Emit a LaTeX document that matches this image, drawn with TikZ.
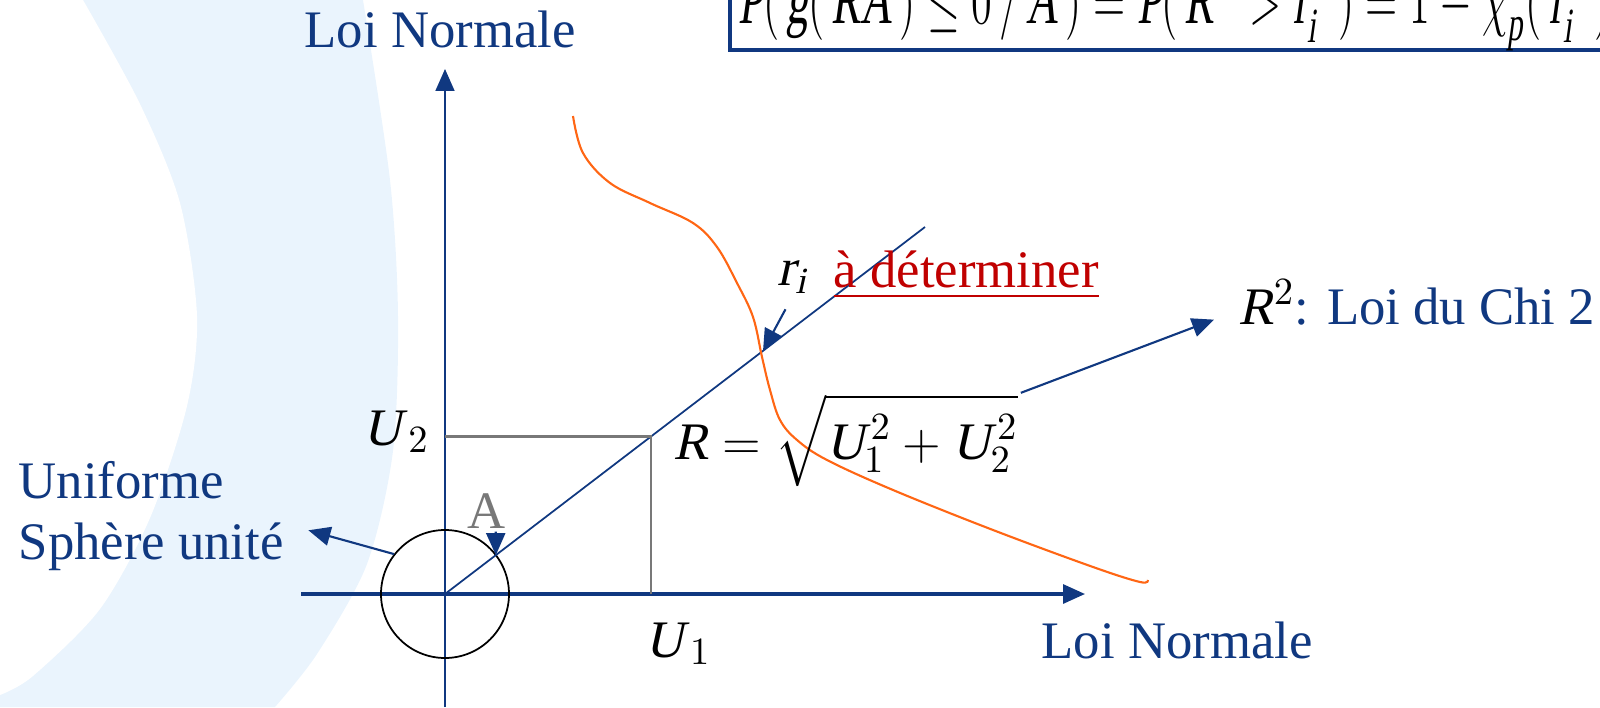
\documentclass[tikz,border=0pt]{standalone}
\usepackage{amsmath}
\usepackage{fontspec}
\setmainfont{Liberation Serif}[ItalicFont={Liberation Serif}, ItalicFeatures={FakeSlant=0.22}]
\usetikzlibrary{arrows.meta}

\definecolor{bleu}{RGB}{16,56,128}
\definecolor{orangec}{RGB}{255,102,20}
\definecolor{rouge}{RGB}{192,0,0}
\definecolor{fond}{RGB}{234,244,253}
\definecolor{gris}{RGB}{120,120,120}

\begin{document}
\begin{tikzpicture}[
    fleche/.style={-{Triangle[length=0.22cm,width=0.19cm]}, draw=bleu, line width=0.6pt},
    etiq/.style={anchor=base west, inner sep=0pt, font=\fontsize{15}{17.6}\selectfont}
  ]
  \useasboundingbox (-4.45,-1.13) rectangle (11.55,5.94);
  \clip (-4.45,-1.13) rectangle (11.55,5.94);

  % 背景：浅蓝色月牙
  \fill[fond] (-4.45,5.94) -- plot[smooth] coordinates {(-0.82,5.94) (-0.55,4.14) (-0.47,2.78)
       (-0.52,1.43) (-0.78,0.30) (-1.28,-0.60) (-1.70,-1.13)} -- (-4.45,-1.13) -- cycle;
  \fill[white] (-4.45,5.94) -- plot[smooth] coordinates {(-3.62,5.94) (-3.05,4.90) (-2.65,3.91)
       (-2.48,2.78) (-2.58,1.88) (-2.95,0.76) (-3.45,-0.15) (-4.12,-0.82) (-4.45,-1.01)} -- cycle;

  % 坐标轴
  \coordinate (O) at (0,0);
  \draw[fleche, line width=0.9pt] (-1.44,0) -- (6.40,0);
  \draw[fleche, line width=0.5pt] (0,-1.13) -- (0,5.25);
  \node[etiq, text=bleu] (axeY) at (-1.41,5.46) {Loi Normale};
  \node[etiq, text=bleu] (axeX) at (5.96,-0.64) {Loi Normale};

  % 单位球
  \node[circle, draw, line width=0.5pt, minimum size=1.28cm, inner sep=0pt] (sphere) at (O) {};

  % 射线与投影
  \coordinate (P) at (2.06,1.575);
  \coordinate (D) at (4.80,3.67);
  \coordinate (pA) at (37.4:0.64);
  \coordinate (Ri) at (3.18,2.43);
  \draw[bleu, line width=0.5pt] (O) -- (D);
  \draw[gris, line width=0.6pt] (O |- P) -- (P) -- (P |- O);

  % 极限状态曲线
  \draw[orangec, line width=0.6pt] plot[smooth, tension=0.6] coordinates {(1.28,4.78) (1.38,4.41)
       (1.65,4.11) (2.05,3.91) (2.48,3.71) (2.72,3.47) (2.92,3.11) (3.08,2.77) (3.17,2.37)
       (3.25,2.04) (3.35,1.74) (3.52,1.54) (3.82,1.34) (4.48,1.04) (5.48,0.64) (6.48,0.27)
       (6.95,0.12) (7.03,0.14)};

  % 标注
  \node[etiq] (u1) at (2.00,-0.63) {$\textit{U}_{\,1}$};
  \node[etiq, anchor=base east] (u2) at (-0.15,1.49) {$\textit{U}_{\,2}$};
  \node[etiq] (formR) at (2.28,1.35) {$\textit{R}=\sqrt{\textit{U}_{1}^{\,2}+\textit{U}_{2}^{\,2}}$};
  \node[etiq] (ri) at (3.32,3.08) {$\textit{r}_{\textit{i}}$};
  \node[etiq, text=rouge] (adet) at (3.88,3.06) {\underline{à déterminer}};
  \node[etiq, text=bleu] (chi) at (7.93,2.695) {{\color{black}$\textit{R}^{2}$}: Loi du Chi 2};
  \node[etiq, text=bleu] (unif) at (-4.27,0.96) {Uniforme};
  \node[etiq, text=bleu] (sph) at (-4.27,0.35) {Sphère unité};
  \node[etiq, text=gris] (A) at (0.22,0.66) {A};

  % 箭头
  \draw[fleche] (sphere.142) -- ([shift={(0.24,0.16)}]sph.east);
  \draw[fleche] ([xshift=0.09cm,yshift=-0.03cm]A.south) -- (pA);
  \draw[fleche] ([shift={(-0.07,-0.15)}]ri.south) -- (Ri);
  \draw[fleche] ([shift={(0.02,0.0)}]formR.north east) -- ([shift={(-0.24,-0.17)}]chi.west);

  % 失效概率公式（上方被截断）
  \draw[bleu, line width=1.2pt] (2.85,6.5) |- (12,5.44);
  \node[anchor=base west, inner sep=0pt, font=\fontsize{12.5}{15}\selectfont] (proba) at (2.93,5.70)
       {\scalebox{1}[1.6]{$\textit{P}(\,\textit{g}(\,\textit{RA}\,)\le 0\,/\,\textit{A}\,)=\textit{P}(\,\textit{R}^{\,2}>\textit{r}_{\textit{i}}^{\,2}\,)=1-\chi_{\textit{p}}^{2}(\,\textit{r}_{\textit{i}}^{\,2}\,)$}};

\end{tikzpicture}
\end{document}
